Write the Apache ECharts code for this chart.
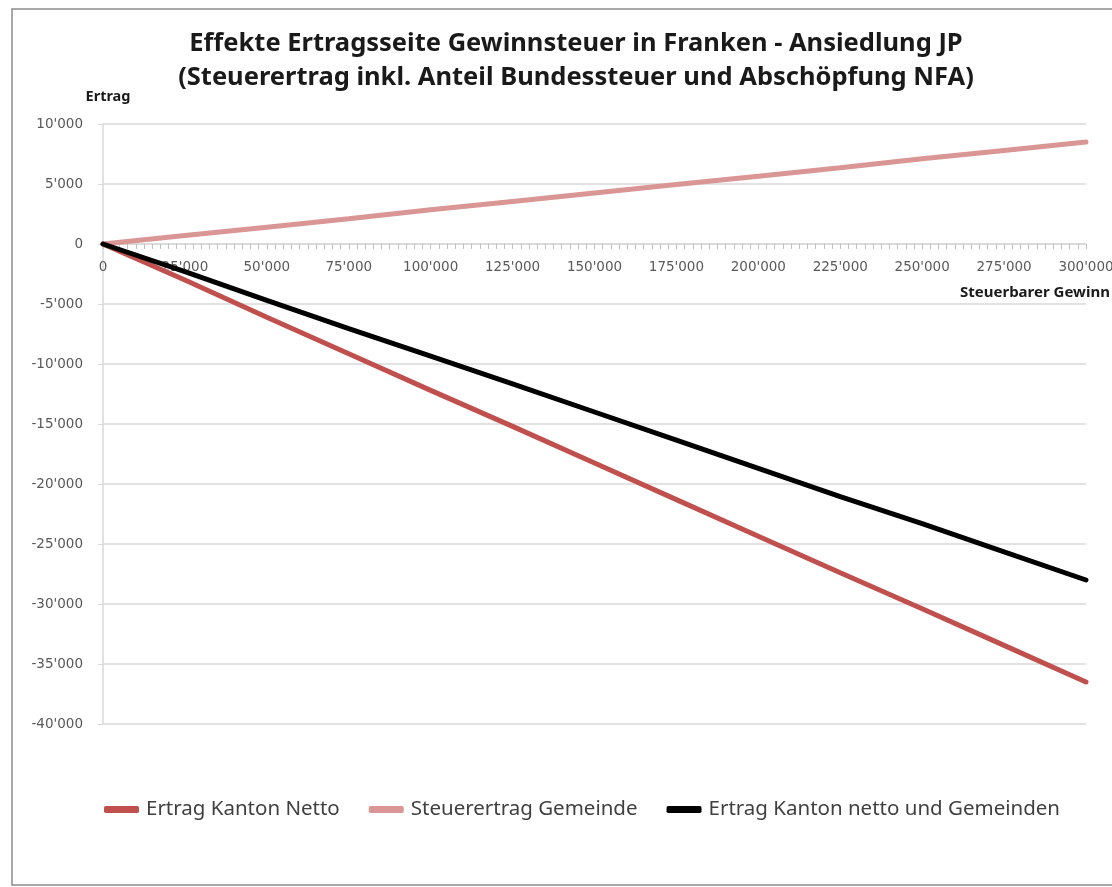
<!DOCTYPE html>
<html>
<head>
<meta charset="utf-8">
<script src="https://cdn.jsdelivr.net/npm/echarts@6/dist/echarts.min.js"></script>
<style>
  html, body { margin: 0; padding: 0; background: #fff; }
  #chart { width: 1112px; height: 887px; }
</style>
</head>
<body>
<div id="chart"></div>
<script>
// Taxable profit (Franken), one point every 25'000
const gewinn = [0, 25000, 50000, 75000, 100000, 125000, 150000, 175000, 200000, 225000, 250000, 275000, 300000];

// Net revenue for the canton
const kantonNetto = [0, -3000, -6100, -9150, -12200, -15200, -18250, -21300, -24350, -27400, -30400, -33450, -36500];
// Tax revenue of the municipality
const gemeinde = [0, 700, 1400, 2100, 2850, 3550, 4250, 4950, 5650, 6350, 7100, 7800, 8500];
// Canton net plus municipalities
const kantonUndGemeinden = [0, -2300, -4700, -7050, -9350, -11650, -14000, -16350, -18700, -21050, -23300, -25650, -28000];

const seriesNames = ['Ertrag Kanton Netto', 'Steuerertrag Gemeinde', 'Ertrag Kanton netto und Gemeinden'];
const titleLines = ['Effekte Ertragsseite Gewinnsteuer in Franken - Ansiedlung JP',
                    '(Steuerertrag inkl. Anteil Bundessteuer und Abschöpfung NFA)'];

// Swiss thousands separator: 10'000, -5'000
function swiss(v) {
  const s = Math.abs(v).toString().replace(/\B(?=(\d{3})+(?!\d))/g, "'");
  return (v < 0 ? '-' : '') + s;
}
const pairs = ys => gewinn.map((x, i) => [x, ys[i]]);

const chart = echarts.init(document.getElementById('chart'), null, { renderer: 'canvas' });
const gridColor = '#d9d9d9';
const labelColor = '#404040';

// plot area: y = 10'000 at top 124px, y = -40'000 at 724px -> zero line at 244px
const gridTop = 124, gridBottom = 163, plotHeight = 887 - gridTop - gridBottom;
const zeroOffset = -plotHeight * (40000 / 50000);

chart.setOption({
  animation: false,
  backgroundColor: '#fff',
  title: {
    text: titleLines.join('\n'),
    left: 571,
    top: 22,
    textAlign: 'center',
    textStyle: {
      fontFamily: 'Noto Sans',
      fontWeight: 'bold',
      fontSize: 25.5,
      lineHeight: 34,
      color: '#1a1a1a'
    }
  },
  grid: {
    left: 103, right: 26, top: gridTop, bottom: gridBottom,
    containLabel: false,
    outerBoundsMode: 'none'
  },
  xAxis: {
    type: 'value',
    min: 0,
    max: 300000,
    interval: 25000,
    offset: zeroOffset,
    axisLine: { onZero: false, lineStyle: { color: gridColor, width: 1.5 } },
    axisTick: { show: true, length: 5, lineStyle: { color: '#bfbfbf' } },
    minorTick: { show: true, splitNumber: 10, length: 5, lineStyle: { color: '#bfbfbf' } },
    splitLine: { show: false },
    axisLabel: {
      formatter: v => swiss(v),
      color: '#595959',
      fontFamily: 'DejaVu Sans',
      fontSize: 13.5,
      margin: 16,
      showMaxLabel: true
    }
  },
  yAxis: {
    type: 'value',
    min: -40000,
    max: 10000,
    interval: 5000,
    name: 'Ertrag',
    nameLocation: 'end',
    nameGap: 20,
    nameTextStyle: {
      fontFamily: 'Noto Sans',
      fontWeight: 'bold',
      fontSize: 14.5,
      color: '#1a1a1a',
      align: 'center',
      padding: [0, 0, 0, 10]
    },
    axisLine: { show: true, lineStyle: { color: gridColor, width: 1.5 } },
    axisTick: { show: true, length: 5, lineStyle: { color: gridColor } },
    splitLine: { show: true, lineStyle: { color: gridColor, width: 1.5 } },
    axisLabel: {
      formatter: v => swiss(v),
      color: '#595959',
      fontFamily: 'DejaVu Sans',
      fontSize: 13.5,
      margin: 20
    }
  },
  legend: {
    data: seriesNames,
    bottom: 62,
    left: 99,
    itemWidth: 35,
    itemHeight: 7,
    itemGap: 29,
    icon: 'roundRect',
    textStyle: {
      fontFamily: 'Noto Sans',
      fontSize: 20.5,
      color: labelColor,
      padding: [0, 0, 0, 2]
    }
  },
  graphic: [
    {
      type: 'rect',
      shape: { x: 12, y: 9, width: 1110, height: 876 },
      style: { fill: 'none', stroke: '#8c8c8c', lineWidth: 1.5 },
      silent: true
    },
    {
      type: 'text',
      left: 960,
      top: 285,
      style: {
        text: 'Steuerbarer Gewinn',
        fontFamily: 'Noto Sans',
        fontWeight: 'bold',
        fontSize: 15,
        fill: '#1a1a1a'
      }
    }
  ],
  series: [
    {
      name: seriesNames[1],
      type: 'line',
      data: pairs(gemeinde),
      showSymbol: false,
      symbol: 'none',
      lineStyle: { color: '#d99694', width: 5, cap: 'round' },
      itemStyle: { color: '#d99694' },
      z: 2
    },
    {
      name: seriesNames[0],
      type: 'line',
      data: pairs(kantonNetto),
      showSymbol: false,
      symbol: 'none',
      lineStyle: { color: '#c0504d', width: 5, cap: 'round' },
      itemStyle: { color: '#c0504d' },
      z: 3
    },
    {
      name: seriesNames[2],
      type: 'line',
      data: pairs(kantonUndGemeinden),
      showSymbol: false,
      symbol: 'none',
      lineStyle: { color: '#000000', width: 5, cap: 'round' },
      itemStyle: { color: '#000000' },
      z: 4
    }
  ]
});
</script>
</body>
</html>
